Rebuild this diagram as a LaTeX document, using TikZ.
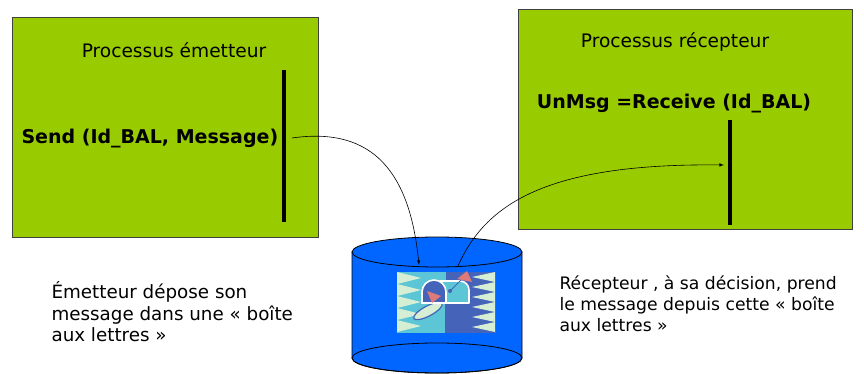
\documentclass[tikz,border=0pt]{standalone}
\usepackage{fontspec}
\setmainfont{DejaVu Sans}
\usepackage{xcolor}
\definecolor{procgreen}{HTML}{99CC00}
\definecolor{cylblue}{HTML}{0066FF}
\definecolor{mbcyan}{HTML}{5CC6D6}
\definecolor{mbblue}{HTML}{4563B9}
\definecolor{mbpale}{HTML}{D6EED4}
\definecolor{mbred}{HTML}{E07A78}
\usetikzlibrary{positioning}

\begin{document}
\begin{tikzpicture}
    [
    x=1pt, y=-1pt,
    procbox/.style = {draw=black!75,fill=procgreen,line width=0.8pt,inner sep=0pt},
    title/.style = {font=\fontsize{18.6}{22}\selectfont},
    call/.style = {font=\fontsize{19}{22}\selectfont\bfseries},
    note/.style = {align=left,anchor=west},
    bar/.style = {line width=3.5pt},
    msg/.style = {->,>=latex,line width=0.6pt}
    ]
\useasboundingbox (0,0) rectangle (864,374);

% the two processes
\node[procbox,minimum width=306pt,minimum height=220pt] (emet) at (165,127) {};
\node[procbox,minimum width=334pt,minimum height=220pt] (recep) at (685,119) {};

\node[title] (emettitle) at (174,50) {Processus émetteur};
\node[title] (receptitle) at (675,42) {Processus récepteur};

\node[call,anchor=west] (send) at (18,139) {Send (Id\_BAL, Message)};
\node[call] (receive) at (674,104) {UnMsg =Receive (Id\_BAL)};

% time lines
\coordinate (sendtop) at (284,70);
\coordinate (sendbot) at (284,222);
\draw[bar] (sendtop) -- (sendbot);
\coordinate (rectop) at (730,120);
\coordinate (recbot) at (730,225);
\draw[bar] (rectop) -- (recbot);

% the mailbox (cylinder)
\path[fill=cylblue,draw=black,line width=0.8pt] (352,252) -- (352,358)
    arc[start angle=180,end angle=0,x radius=85,y radius=15] -- (522,252) -- cycle;
\draw[line width=0.8pt] (437,358) ellipse [x radius=85,y radius=15];
\draw[fill=cylblue,line width=0.8pt] (437,252) ellipse [x radius=85,y radius=15];

% letter box picture
\fill[mbcyan] (397,272) rectangle (446,333);
\fill[mbblue] (446,272) rectangle (495,333);
\fill[mbpale] (397,272) foreach \i in {0,...,4} {-- (421,{278+12*\i}) -- (397,{284+12*\i})} -- (397,333) -- cycle;
\fill[mbpale] (495,272) foreach \i in {0,...,5} {-- (472,{277+10*\i}) -- (495,{282+10*\i})} -- (495,333) -- cycle;
\draw[mbblue,line width=1.6pt] (446,302) -- (446,333);
\draw[mbblue,line width=1.2pt,fill=mbpale,rotate around={28:(428,311)}] (428,311) ellipse [x radius=16,y radius=5];
\draw[white,line width=1.6pt,fill=mbcyan,line join=round] (440,303) -- (440,281)
    [rounded corners=9pt] -- (469,281) [sharp corners] -- (469,303) -- cycle;
\draw[white,line width=1.6pt,fill=mbblue] (422,303) -- (422,292)
    arc[start angle=180,end angle=360,x radius=12,y radius=12] -- (446,303) -- cycle;
\fill[mbred] (427,291) -- (441,296) -- (432,303) -- cycle;
\draw[mbblue,line width=1pt] (450,291) -- (463,278);
\fill[mbblue] (450,291) circle [radius=2];
\fill[mbred] (457,279) -- (467,271) -- (472,282) -- cycle;

% message path
\coordinate (sendout) at (292,138);
\coordinate (dropin) at (419,265);
\draw[msg] (sendout) .. controls (375,126) and (410,175) .. (dropin);
\coordinate (takeout) at (458,266);
\coordinate (recin) at (724,165);
\draw[msg] (takeout) .. controls (485,205) and (545,163) .. (recin);

% comments under the processes
\node[note,font=\fontsize{18.3}{21.5}\selectfont] (noteemet) at (48,312) {Émetteur dépose son\\message dans une « boîte\\aux lettres »};
\node[note,font=\fontsize{17.2}{21}\selectfont] (noterecep) at (556,304) {Récepteur , à sa décision, prend\\le message depuis cette « boîte\\aux lettres »};

\end{tikzpicture}
\end{document}
